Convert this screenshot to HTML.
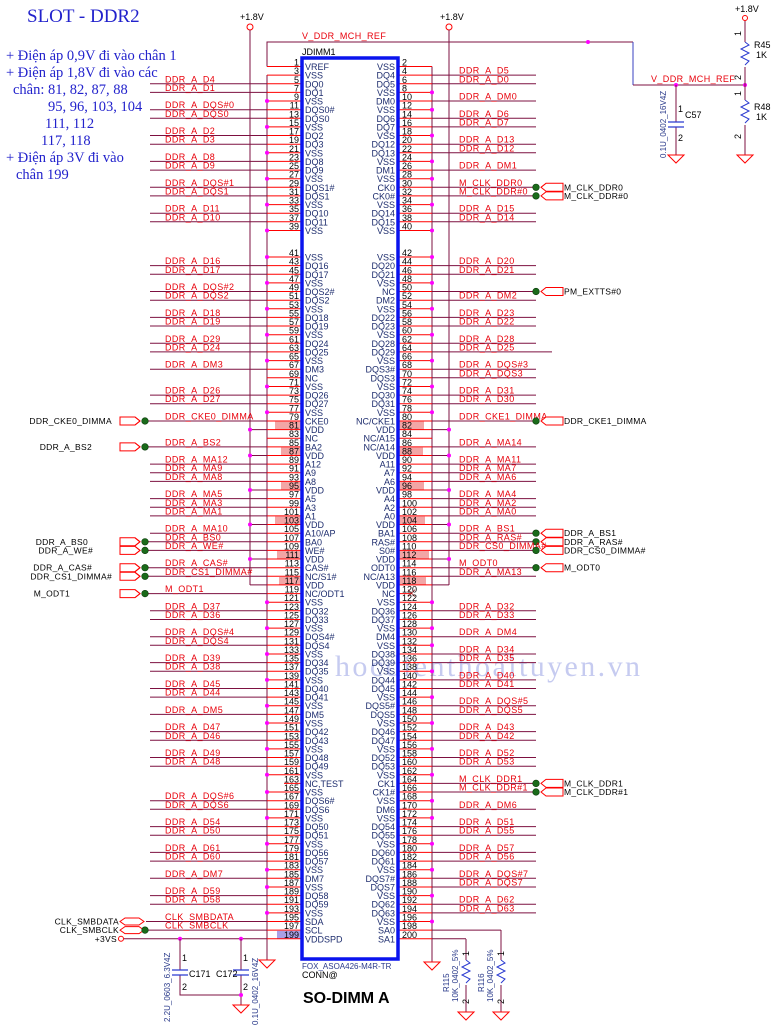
<!DOCTYPE html>
<html><head><meta charset="utf-8"><style>
html,body{margin:0;padding:0;background:#fff;width:776px;height:1027px;overflow:hidden}
svg{display:block}
text{font-family:"Liberation Sans",sans-serif}
.n{font-size:9px;fill:#000;text-anchor:end}
.m{font-size:9px;fill:#000}
.p{font-size:9px;fill:#1e2d6e}
.q{font-size:9px;fill:#1e2d6e;text-anchor:end}
.l{font-size:9px;fill:#e8000b;letter-spacing:.4px}
.k{font-size:8.5px;fill:#000;letter-spacing:.3px}
.ke{font-size:8.5px;fill:#000;letter-spacing:.3px;text-anchor:end}
.s{stroke:#f00;stroke-width:1;fill:none}
.w{stroke:#7d1040;stroke-width:1;fill:none}
.b{stroke:#2a3ad0;stroke-width:1;fill:none}
.d{fill:#f0f}
.g{fill:#1a6b1a;stroke:#0a3a0a;stroke-width:.6}
.pk{fill:#f2a6a6}
.sv,.sv text{font-family:"Liberation Serif",serif;fill:#2222cc}
.v{font-size:8px;fill:#2a3a8a}
</style></head><body>
<svg width="776" height="1027" viewBox="0 0 776 1027" xmlns="http://www.w3.org/2000/svg" overflow="hidden">
<defs>
<g id="gnd"><path d="M-8 0H8L0 8Z" fill="none" stroke="#f00" stroke-width="1"/></g>
<g id="lc"><path d="M-25 -4H-10L-5 0L-10 4H-25Z" fill="#fff" stroke="#f00"/><path d="M-10 -4L-5 0L-10 4" fill="none" stroke="#f00"/><circle cx="0" cy="0" r="3.3" class="g"/></g>
<g id="rc"><circle cx="0" cy="0" r="3.3" class="g"/><path d="M10 -4H27V4H10L5 0Z" fill="#fff" stroke="#f00"/></g>
</defs>

<!-- title & notes -->
<text x="27" y="22" class="sv" font-size="19">SLOT - DDR2</text>
<g class="sv" font-size="14.5">
<text x="6" y="60">+ Điện áp 0,9V đi vào chân 1</text>
<text x="6" y="77">+ Điện áp 1,8V đi vào các</text>
<text x="13" y="94">chân: 81, 82, 87, 88</text>
<text x="48" y="111">95, 96, 103, 104</text>
<text x="45" y="128">111, 112</text>
<text x="41" y="145">117, 118</text>
<text x="6" y="162">+ Điện áp 3V đi vào</text>
<text x="16" y="179">chân 199</text>
</g>

<!-- watermark -->
<text x="335" y="676" style="font-family:'Liberation Serif',serif" font-size="30" fill="#c6cbf0" textLength="305">hocdienthoaituyen.vn</text>

<!-- power rails -->
<text x="240" y="20" class="m" font-size="8">+1.8V</text>
<circle cx="250" cy="27" r="3" fill="none" stroke="#f00"/>
<path class="w" d="M250 30V585"/>
<text x="440" y="20" class="m" font-size="8">+1.8V</text>
<circle cx="449" cy="27" r="3" fill="none" stroke="#f00"/>
<path class="w" d="M449 30V585"/>
<path class="w" d="M267 75V960M432 66.5V962"/>
<use href="#gnd" x="267" y="960"/>
<use href="#gnd" x="432" y="962"/>

<!-- VREF route -->
<path class="w" d="M267 66.5V42H633"/>
<path d="M633 42V85" stroke="#3a40c0" fill="none"/>
<path class="w" d="M633 85H745"/>
<circle cx="588" cy="42" r="2" class="d"/>
<text x="302" y="39" class="l">V_DDR_MCH_REF</text>
<text x="651" y="82" class="l">V_DDR_MCH_REF</text>
<circle cx="676" cy="85" r="2" class="d"/>
<circle cx="745" cy="85" r="2" class="d"/>
<path class="w" d="M676 85V122M676 127V155"/>
<path d="M668 122H684M668 127H684" stroke="#2a3ad0" stroke-width="1.3"/>
<use href="#gnd" x="676" y="155"/>
<text x="685" y="118" class="m" font-size="8">C57</text>
<text x="678" y="112" class="m" font-size="8">1</text>
<text x="678" y="141" class="m" font-size="8">2</text>
<text transform="translate(666,158) rotate(-90)" class="v">0.1U_0402_16V4Z</text>
<text x="735" y="12" class="m" font-size="8">+1.8V</text>
<circle cx="745" cy="18" r="2.5" fill="none" stroke="#f00"/>
<path class="w" d="M745 21V42M745 67V100M745 125V155"/>
<path class="b" d="M745 42l4 3l-8 4l8 4l-8 4l8 4l-4 4"/>
<path class="b" d="M745 100l4 3l-8 4l8 4l-8 4l8 4l-4 4"/>
<use href="#gnd" x="745" y="155"/>
<text x="754" y="48" class="m" font-size="8">R45</text><text x="756" y="58" class="m" font-size="8">1K</text>
<text x="754" y="110" class="m" font-size="8">R48</text><text x="756" y="120" class="m" font-size="8">1K</text>
<text transform="translate(741,36) rotate(-90)" class="m" font-size="8">1</text>
<text transform="translate(741,80) rotate(-90)" class="m" font-size="8">2</text>
<text transform="translate(741,96) rotate(-90)" class="m" font-size="8">1</text>
<text transform="translate(741,139) rotate(-90)" class="m" font-size="8">2</text>

<text x="302" y="55" class="m" font-size="8.5">JDIMM1</text>

<!-- rows -->
<g transform="translate(0,66.5)"><path class="s" d="M267 0H302M398 0H432"/><text x="299" y="-1" class="n">1</text><text x="305" y="3.5" class="p">VREF</text><text x="395" y="3.5" class="q">VSS</text><text x="402" y="-1" class="m">2</text></g>
<g transform="translate(0,75.1)"><path class="s" d="M267 0H302M398 0H432"/><path class="w" d="M432 0H536"/><text x="459" y="-1.5" class="l">DDR_A_D5</text><text x="299" y="-1" class="n">3</text><text x="305" y="3.5" class="p">VSS</text><text x="395" y="3.5" class="q">DQ4</text><text x="402" y="-1" class="m">4</text></g>
<g transform="translate(0,83.8)"><path class="s" d="M267 0H302M398 0H432"/><path class="w" d="M150 0H267M432 0H536"/><text x="165" y="-1.5" class="l">DDR_A_D4</text><text x="459" y="-1.5" class="l">DDR_A_D0</text><text x="299" y="-1" class="n">5</text><text x="305" y="3.5" class="p">DQ0</text><text x="395" y="3.5" class="q">DQ5</text><text x="402" y="-1" class="m">6</text></g>
<g transform="translate(0,92.4)"><path class="s" d="M267 0H302M398 0H432"/><path class="w" d="M150 0H267"/><circle cx="432" r="2" class="d"/><text x="165" y="-1.5" class="l">DDR_A_D1</text><text x="299" y="-1" class="n">7</text><text x="305" y="3.5" class="p">DQ1</text><text x="395" y="3.5" class="q">VSS</text><text x="402" y="-1" class="m">8</text></g>
<g transform="translate(0,101)"><path class="s" d="M267 0H302M398 0H432"/><path class="w" d="M432 0H536"/><circle cx="267" r="2" class="d"/><text x="459" y="-1.5" class="l">DDR_A_DM0</text><text x="299" y="-1" class="n">9</text><text x="305" y="3.5" class="p">VSS</text><text x="395" y="3.5" class="q">DM0</text><text x="402" y="-1" class="m">10</text></g>
<g transform="translate(0,109.7)"><path class="s" d="M267 0H302M398 0H432"/><path class="w" d="M150 0H267"/><circle cx="432" r="2" class="d"/><text x="165" y="-1.5" class="l">DDR_A_DQS#0</text><text x="299" y="-1" class="n">11</text><text x="305" y="3.5" class="p">DQS0#</text><text x="395" y="3.5" class="q">VSS</text><text x="402" y="-1" class="m">12</text></g>
<g transform="translate(0,118.3)"><path class="s" d="M267 0H302M398 0H432"/><path class="w" d="M150 0H267M432 0H536"/><text x="165" y="-1.5" class="l">DDR_A_DQS0</text><text x="459" y="-1.5" class="l">DDR_A_D6</text><text x="299" y="-1" class="n">13</text><text x="305" y="3.5" class="p">DQS0</text><text x="395" y="3.5" class="q">DQ6</text><text x="402" y="-1" class="m">14</text></g>
<g transform="translate(0,126.9)"><path class="s" d="M267 0H302M398 0H432"/><path class="w" d="M432 0H536"/><circle cx="267" r="2" class="d"/><text x="459" y="-1.5" class="l">DDR_A_D7</text><text x="299" y="-1" class="n">15</text><text x="305" y="3.5" class="p">VSS</text><text x="395" y="3.5" class="q">DQ7</text><text x="402" y="-1" class="m">16</text></g>
<g transform="translate(0,135.5)"><path class="s" d="M267 0H302M398 0H432"/><path class="w" d="M150 0H267"/><circle cx="432" r="2" class="d"/><text x="165" y="-1.5" class="l">DDR_A_D2</text><text x="299" y="-1" class="n">17</text><text x="305" y="3.5" class="p">DQ2</text><text x="395" y="3.5" class="q">VSS</text><text x="402" y="-1" class="m">18</text></g>
<g transform="translate(0,144.2)"><path class="s" d="M267 0H302M398 0H432"/><path class="w" d="M150 0H267M432 0H536"/><text x="165" y="-1.5" class="l">DDR_A_D3</text><text x="459" y="-1.5" class="l">DDR_A_D13</text><text x="299" y="-1" class="n">19</text><text x="305" y="3.5" class="p">DQ3</text><text x="395" y="3.5" class="q">DQ12</text><text x="402" y="-1" class="m">20</text></g>
<g transform="translate(0,152.8)"><path class="s" d="M267 0H302M398 0H432"/><path class="w" d="M432 0H536"/><circle cx="267" r="2" class="d"/><text x="459" y="-1.5" class="l">DDR_A_D12</text><text x="299" y="-1" class="n">21</text><text x="305" y="3.5" class="p">VSS</text><text x="395" y="3.5" class="q">DQ13</text><text x="402" y="-1" class="m">22</text></g>
<g transform="translate(0,161.4)"><path class="s" d="M267 0H302M398 0H432"/><path class="w" d="M150 0H267"/><circle cx="432" r="2" class="d"/><text x="165" y="-1.5" class="l">DDR_A_D8</text><text x="299" y="-1" class="n">23</text><text x="305" y="3.5" class="p">DQ8</text><text x="395" y="3.5" class="q">VSS</text><text x="402" y="-1" class="m">24</text></g>
<g transform="translate(0,170.1)"><path class="s" d="M267 0H302M398 0H432"/><path class="w" d="M150 0H267M432 0H536"/><text x="165" y="-1.5" class="l">DDR_A_D9</text><text x="459" y="-1.5" class="l">DDR_A_DM1</text><text x="299" y="-1" class="n">25</text><text x="305" y="3.5" class="p">DQ9</text><text x="395" y="3.5" class="q">DM1</text><text x="402" y="-1" class="m">26</text></g>
<g transform="translate(0,178.7)"><path class="s" d="M267 0H302M398 0H432"/><circle cx="267" r="2" class="d"/><circle cx="432" r="2" class="d"/><text x="299" y="-1" class="n">27</text><text x="305" y="3.5" class="p">VSS</text><text x="395" y="3.5" class="q">VSS</text><text x="402" y="-1" class="m">28</text></g>
<g transform="translate(0,187.3)"><path class="s" d="M267 0H302M398 0H432"/><path class="w" d="M150 0H267M432 0H536"/><text x="165" y="-1.5" class="l">DDR_A_DQS#1</text><text x="459" y="-1.5" class="l">M_CLK_DDR0</text><use href="#rc" x="536"/><text x="564" y="3" class="k">M_CLK_DDR0</text><text x="299" y="-1" class="n">29</text><text x="305" y="3.5" class="p">DQS1#</text><text x="395" y="3.5" class="q">CK0</text><text x="402" y="-1" class="m">30</text></g>
<g transform="translate(0,195.9)"><path class="s" d="M267 0H302M398 0H432"/><path class="w" d="M150 0H267M432 0H536"/><text x="165" y="-1.5" class="l">DDR_A_DQS1</text><text x="459" y="-1.5" class="l">M_CLK_DDR#0</text><use href="#rc" x="536"/><text x="564" y="3" class="k">M_CLK_DDR#0</text><text x="299" y="-1" class="n">31</text><text x="305" y="3.5" class="p">DQS1</text><text x="395" y="3.5" class="q">CK0#</text><text x="402" y="-1" class="m">32</text></g>
<g transform="translate(0,204.6)"><path class="s" d="M267 0H302M398 0H432"/><circle cx="267" r="2" class="d"/><circle cx="432" r="2" class="d"/><text x="299" y="-1" class="n">33</text><text x="305" y="3.5" class="p">VSS</text><text x="395" y="3.5" class="q">VSS</text><text x="402" y="-1" class="m">34</text></g>
<g transform="translate(0,213.2)"><path class="s" d="M267 0H302M398 0H432"/><path class="w" d="M150 0H267M432 0H536"/><text x="165" y="-1.5" class="l">DDR_A_D11</text><text x="459" y="-1.5" class="l">DDR_A_D15</text><text x="299" y="-1" class="n">35</text><text x="305" y="3.5" class="p">DQ10</text><text x="395" y="3.5" class="q">DQ14</text><text x="402" y="-1" class="m">36</text></g>
<g transform="translate(0,221.8)"><path class="s" d="M267 0H302M398 0H432"/><path class="w" d="M150 0H267M432 0H536"/><text x="165" y="-1.5" class="l">DDR_A_D10</text><text x="459" y="-1.5" class="l">DDR_A_D14</text><text x="299" y="-1" class="n">37</text><text x="305" y="3.5" class="p">DQ11</text><text x="395" y="3.5" class="q">DQ15</text><text x="402" y="-1" class="m">38</text></g>
<g transform="translate(0,230.5)"><path class="s" d="M267 0H302M398 0H432"/><circle cx="267" r="2" class="d"/><circle cx="432" r="2" class="d"/><text x="299" y="-1" class="n">39</text><text x="305" y="3.5" class="p">VSS</text><text x="395" y="3.5" class="q">VSS</text><text x="402" y="-1" class="m">40</text></g>

<g transform="translate(0,257)"><path class="s" d="M267 0H302M398 0H432"/><circle cx="267" r="2" class="d"/><circle cx="432" r="2" class="d"/><text x="299" y="-1" class="n">41</text><text x="305" y="3.5" class="p">VSS</text><text x="395" y="3.5" class="q">VSS</text><text x="402" y="-1" class="m">42</text></g>
<g transform="translate(0,265.6)"><path class="s" d="M267 0H302M398 0H432"/><path class="w" d="M150 0H267M432 0H536"/><text x="165" y="-1.5" class="l">DDR_A_D16</text><text x="459" y="-1.5" class="l">DDR_A_D20</text><text x="299" y="-1" class="n">43</text><text x="305" y="3.5" class="p">DQ16</text><text x="395" y="3.5" class="q">DQ20</text><text x="402" y="-1" class="m">44</text></g>
<g transform="translate(0,274.3)"><path class="s" d="M267 0H302M398 0H432"/><path class="w" d="M150 0H267M432 0H536"/><text x="165" y="-1.5" class="l">DDR_A_D17</text><text x="459" y="-1.5" class="l">DDR_A_D21</text><text x="299" y="-1" class="n">45</text><text x="305" y="3.5" class="p">DQ17</text><text x="395" y="3.5" class="q">DQ21</text><text x="402" y="-1" class="m">46</text></g>
<g transform="translate(0,282.9)"><path class="s" d="M267 0H302M398 0H432"/><circle cx="267" r="2" class="d"/><circle cx="432" r="2" class="d"/><text x="299" y="-1" class="n">47</text><text x="305" y="3.5" class="p">VSS</text><text x="395" y="3.5" class="q">VSS</text><text x="402" y="-1" class="m">48</text></g>
<g transform="translate(0,291.5)"><path class="s" d="M267 0H302M398 0H432"/><path class="w" d="M150 0H267M432 0H536"/><text x="165" y="-1.5" class="l">DDR_A_DQS#2</text><use href="#rc" x="536"/><text x="564" y="3" class="k">PM_EXTTS#0</text><text x="299" y="-1" class="n">49</text><text x="305" y="3.5" class="p">DQS2#</text><text x="395" y="3.5" class="q">NC</text><text x="402" y="-1" class="m">50</text></g>
<g transform="translate(0,300.2)"><path class="s" d="M267 0H302M398 0H432"/><path class="w" d="M150 0H267M432 0H536"/><text x="165" y="-1.5" class="l">DDR_A_DQS2</text><text x="459" y="-1.5" class="l">DDR_A_DM2</text><text x="299" y="-1" class="n">51</text><text x="305" y="3.5" class="p">DQS2</text><text x="395" y="3.5" class="q">DM2</text><text x="402" y="-1" class="m">52</text></g>
<g transform="translate(0,308.8)"><path class="s" d="M267 0H302M398 0H432"/><circle cx="267" r="2" class="d"/><circle cx="432" r="2" class="d"/><text x="299" y="-1" class="n">53</text><text x="305" y="3.5" class="p">VSS</text><text x="395" y="3.5" class="q">VSS</text><text x="402" y="-1" class="m">54</text></g>
<g transform="translate(0,317.4)"><path class="s" d="M267 0H302M398 0H432"/><path class="w" d="M150 0H267M432 0H536"/><text x="165" y="-1.5" class="l">DDR_A_D18</text><text x="459" y="-1.5" class="l">DDR_A_D23</text><text x="299" y="-1" class="n">55</text><text x="305" y="3.5" class="p">DQ18</text><text x="395" y="3.5" class="q">DQ22</text><text x="402" y="-1" class="m">56</text></g>
<g transform="translate(0,326)"><path class="s" d="M267 0H302M398 0H432"/><path class="w" d="M150 0H267M432 0H536"/><text x="165" y="-1.5" class="l">DDR_A_D19</text><text x="459" y="-1.5" class="l">DDR_A_D22</text><text x="299" y="-1" class="n">57</text><text x="305" y="3.5" class="p">DQ19</text><text x="395" y="3.5" class="q">DQ23</text><text x="402" y="-1" class="m">58</text></g>
<g transform="translate(0,334.7)"><path class="s" d="M267 0H302M398 0H432"/><circle cx="267" r="2" class="d"/><circle cx="432" r="2" class="d"/><text x="299" y="-1" class="n">59</text><text x="305" y="3.5" class="p">VSS</text><text x="395" y="3.5" class="q">VSS</text><text x="402" y="-1" class="m">60</text></g>
<g transform="translate(0,343.3)"><path class="s" d="M267 0H302M398 0H432"/><path class="w" d="M150 0H267M432 0H536"/><text x="165" y="-1.5" class="l">DDR_A_D29</text><text x="459" y="-1.5" class="l">DDR_A_D28</text><text x="299" y="-1" class="n">61</text><text x="305" y="3.5" class="p">DQ24</text><text x="395" y="3.5" class="q">DQ28</text><text x="402" y="-1" class="m">62</text></g>
<g transform="translate(0,351.9)"><path class="s" d="M267 0H302M398 0H432"/><path class="w" d="M150 0H267M432 0H552"/><text x="165" y="-1.5" class="l">DDR_A_D24</text><text x="459" y="-1.5" class="l">DDR_A_D25</text><text x="299" y="-1" class="n">63</text><text x="305" y="3.5" class="p">DQ25</text><text x="395" y="3.5" class="q">DQ29</text><text x="402" y="-1" class="m">64</text></g>
<g transform="translate(0,360.6)"><path class="s" d="M267 0H302M398 0H432"/><circle cx="267" r="2" class="d"/><circle cx="432" r="2" class="d"/><text x="299" y="-1" class="n">65</text><text x="305" y="3.5" class="p">VSS</text><text x="395" y="3.5" class="q">VSS</text><text x="402" y="-1" class="m">66</text></g>
<g transform="translate(0,369.2)"><path class="s" d="M267 0H302M398 0H432"/><path class="w" d="M150 0H267M432 0H536"/><text x="165" y="-1.5" class="l">DDR_A_DM3</text><text x="459" y="-1.5" class="l">DDR_A_DQS#3</text><text x="299" y="-1" class="n">67</text><text x="305" y="3.5" class="p">DM3</text><text x="395" y="3.5" class="q">DQS3#</text><text x="402" y="-1" class="m">68</text></g>
<g transform="translate(0,377.8)"><path class="s" d="M267 0H302M398 0H432"/><path class="w" d="M432 0H536"/><text x="459" y="-1.5" class="l">DDR_A_DQS3</text><text x="299" y="-1" class="n">69</text><text x="305" y="3.5" class="p">NC</text><text x="395" y="3.5" class="q">DQS3</text><text x="402" y="-1" class="m">70</text></g>
<g transform="translate(0,386.5)"><path class="s" d="M267 0H302M398 0H432"/><circle cx="267" r="2" class="d"/><circle cx="432" r="2" class="d"/><text x="299" y="-1" class="n">71</text><text x="305" y="3.5" class="p">VSS</text><text x="395" y="3.5" class="q">VSS</text><text x="402" y="-1" class="m">72</text></g>
<g transform="translate(0,395.1)"><path class="s" d="M267 0H302M398 0H432"/><path class="w" d="M150 0H267M432 0H536"/><text x="165" y="-1.5" class="l">DDR_A_D26</text><text x="459" y="-1.5" class="l">DDR_A_D31</text><text x="299" y="-1" class="n">73</text><text x="305" y="3.5" class="p">DQ26</text><text x="395" y="3.5" class="q">DQ30</text><text x="402" y="-1" class="m">74</text></g>
<g transform="translate(0,403.7)"><path class="s" d="M267 0H302M398 0H432"/><path class="w" d="M150 0H267M432 0H536"/><text x="165" y="-1.5" class="l">DDR_A_D27</text><text x="459" y="-1.5" class="l">DDR_A_D30</text><text x="299" y="-1" class="n">75</text><text x="305" y="3.5" class="p">DQ27</text><text x="395" y="3.5" class="q">DQ31</text><text x="402" y="-1" class="m">76</text></g>
<g transform="translate(0,412.3)"><path class="s" d="M267 0H302M398 0H432"/><circle cx="267" r="2" class="d"/><circle cx="432" r="2" class="d"/><text x="299" y="-1" class="n">77</text><text x="305" y="3.5" class="p">VSS</text><text x="395" y="3.5" class="q">VSS</text><text x="402" y="-1" class="m">78</text></g>
<g transform="translate(0,421)"><path class="s" d="M267 0H302M398 0H432"/><path class="w" d="M146 0H267M432 0H536"/><text x="165" y="-1.5" class="l">DDR_CKE0_DIMMA</text><text x="459" y="-1.5" class="l">DDR_CKE1_DIMMA</text><use href="#lc" x="145"/><text x="112" y="3" class="ke">DDR_CKE0_DIMMA</text><use href="#rc" x="536"/><text x="564" y="3" class="k">DDR_CKE1_DIMMA</text><text x="299" y="-1" class="n">79</text><text x="305" y="3.5" class="p">CKE0</text><text x="395" y="3.5" class="q">NC/CKE1</text><text x="402" y="-1" class="m">80</text></g>
<g transform="translate(0,429.6)"><rect x="275" y="-8" width="26" height="8" class="pk"/><rect x="399" y="-8" width="25" height="8" class="pk"/><path class="s" d="M267 0H302M398 0H432"/><path class="w" d="M250 0H267M432 0H449"/><circle cx="250" r="2" class="d"/><circle cx="449" r="2" class="d"/><text x="299" y="-1" class="n">81</text><text x="305" y="3.5" class="p">VDD</text><text x="395" y="3.5" class="q">VDD</text><text x="402" y="-1" class="m">82</text></g>
<g transform="translate(0,438.2)"><path class="s" d="M267 0H302M398 0H432"/><text x="299" y="-1" class="n">83</text><text x="305" y="3.5" class="p">NC</text><text x="395" y="3.5" class="q">NC/A15</text><text x="402" y="-1" class="m">84</text></g>
<g transform="translate(0,446.9)"><path class="s" d="M267 0H302M398 0H432"/><path class="w" d="M146 0H267M432 0H536"/><text x="165" y="-1.5" class="l">DDR_A_BS2</text><text x="459" y="-1.5" class="l">DDR_A_MA14</text><use href="#lc" x="145"/><text x="92" y="3" class="ke">DDR_A_BS2</text><text x="299" y="-1" class="n">85</text><text x="305" y="3.5" class="p">BA2</text><text x="395" y="3.5" class="q">NC/A14</text><text x="402" y="-1" class="m">86</text></g>
<g transform="translate(0,455.5)"><rect x="281" y="-8" width="20" height="8" class="pk"/><rect x="399" y="-8" width="24" height="8" class="pk"/><path class="s" d="M267 0H302M398 0H432"/><path class="w" d="M250 0H267M432 0H449"/><circle cx="250" r="2" class="d"/><circle cx="449" r="2" class="d"/><text x="299" y="-1" class="n">87</text><text x="305" y="3.5" class="p">VDD</text><text x="395" y="3.5" class="q">VDD</text><text x="402" y="-1" class="m">88</text></g>
<g transform="translate(0,464.1)"><path class="s" d="M267 0H302M398 0H432"/><path class="w" d="M150 0H267M432 0H536"/><text x="165" y="-1.5" class="l">DDR_A_MA12</text><text x="459" y="-1.5" class="l">DDR_A_MA11</text><text x="299" y="-1" class="n">89</text><text x="305" y="3.5" class="p">A12</text><text x="395" y="3.5" class="q">A11</text><text x="402" y="-1" class="m">90</text></g>
<g transform="translate(0,472.7)"><path class="s" d="M267 0H302M398 0H432"/><path class="w" d="M150 0H267M432 0H536"/><text x="165" y="-1.5" class="l">DDR_A_MA9</text><text x="459" y="-1.5" class="l">DDR_A_MA7</text><text x="299" y="-1" class="n">91</text><text x="305" y="3.5" class="p">A9</text><text x="395" y="3.5" class="q">A7</text><text x="402" y="-1" class="m">92</text></g>
<g transform="translate(0,481.4)"><path class="s" d="M267 0H302M398 0H432"/><path class="w" d="M150 0H267M432 0H536"/><text x="165" y="-1.5" class="l">DDR_A_MA8</text><text x="459" y="-1.5" class="l">DDR_A_MA6</text><text x="299" y="-1" class="n">93</text><text x="305" y="3.5" class="p">A8</text><text x="395" y="3.5" class="q">A6</text><text x="402" y="-1" class="m">94</text></g>
<g transform="translate(0,490)"><rect x="281" y="-8" width="20" height="8" class="pk"/><rect x="399" y="-8" width="25" height="8" class="pk"/><path class="s" d="M267 0H302M398 0H432"/><path class="w" d="M250 0H267M432 0H449"/><circle cx="250" r="2" class="d"/><circle cx="449" r="2" class="d"/><text x="299" y="-1" class="n">95</text><text x="305" y="3.5" class="p">VDD</text><text x="395" y="3.5" class="q">VDD</text><text x="402" y="-1" class="m">96</text></g>
<g transform="translate(0,498.6)"><path class="s" d="M267 0H302M398 0H432"/><path class="w" d="M150 0H267M432 0H536"/><text x="165" y="-1.5" class="l">DDR_A_MA5</text><text x="459" y="-1.5" class="l">DDR_A_MA4</text><text x="299" y="-1" class="n">97</text><text x="305" y="3.5" class="p">A5</text><text x="395" y="3.5" class="q">A4</text><text x="402" y="-1" class="m">98</text></g>
<g transform="translate(0,507.3)"><path class="s" d="M267 0H302M398 0H432"/><path class="w" d="M150 0H267M432 0H536"/><text x="165" y="-1.5" class="l">DDR_A_MA3</text><text x="459" y="-1.5" class="l">DDR_A_MA2</text><text x="299" y="-1" class="n">99</text><text x="305" y="3.5" class="p">A3</text><text x="395" y="3.5" class="q">A2</text><text x="402" y="-1" class="m">100</text></g>
<g transform="translate(0,515.9)"><path class="s" d="M267 0H302M398 0H432"/><path class="w" d="M150 0H267M432 0H536"/><text x="165" y="-1.5" class="l">DDR_A_MA1</text><text x="459" y="-1.5" class="l">DDR_A_MA0</text><text x="299" y="-1" class="n">101</text><text x="305" y="3.5" class="p">A1</text><text x="395" y="3.5" class="q">A0</text><text x="402" y="-1" class="m">102</text></g>
<g transform="translate(0,524.5)"><rect x="275" y="-8" width="26" height="8" class="pk"/><rect x="399" y="-8" width="26" height="8" class="pk"/><path class="s" d="M267 0H302M398 0H432"/><path class="w" d="M250 0H267M432 0H449"/><circle cx="250" r="2" class="d"/><circle cx="449" r="2" class="d"/><text x="299" y="-1" class="n">103</text><text x="305" y="3.5" class="p">VDD</text><text x="395" y="3.5" class="q">VDD</text><text x="402" y="-1" class="m">104</text></g>
<g transform="translate(0,533.2)"><path class="s" d="M267 0H302M398 0H432"/><path class="w" d="M150 0H267M432 0H536"/><text x="165" y="-1.5" class="l">DDR_A_MA10</text><text x="459" y="-1.5" class="l">DDR_A_BS1</text><use href="#rc" x="536"/><text x="564" y="3" class="k">DDR_A_BS1</text><text x="299" y="-1" class="n">105</text><text x="305" y="3.5" class="p">A10/AP</text><text x="395" y="3.5" class="q">BA1</text><text x="402" y="-1" class="m">106</text></g>
<g transform="translate(0,541.8)"><path class="s" d="M267 0H302M398 0H432"/><path class="w" d="M146 0H267M432 0H536"/><text x="165" y="-1.5" class="l">DDR_A_BS0</text><text x="459" y="-1.5" class="l">DDR_A_RAS#</text><use href="#lc" x="145"/><text x="88" y="3" class="ke">DDR_A_BS0</text><use href="#rc" x="536"/><text x="564" y="3" class="k">DDR_A_RAS#</text><text x="299" y="-1" class="n">107</text><text x="305" y="3.5" class="p">BA0</text><text x="395" y="3.5" class="q">RAS#</text><text x="402" y="-1" class="m">108</text></g>
<g transform="translate(0,550.4)"><path class="s" d="M267 0H302M398 0H432"/><path class="w" d="M146 0H267M432 0H536"/><text x="165" y="-1.5" class="l">DDR_A_WE#</text><text x="459" y="-1.5" class="l">DDR_CS0_DIMMA#</text><use href="#lc" x="145"/><text x="93" y="3" class="ke">DDR_A_WE#</text><use href="#rc" x="536"/><text x="564" y="3" class="k">DDR_CS0_DIMMA#</text><text x="299" y="-1" class="n">109</text><text x="305" y="3.5" class="p">WE#</text><text x="395" y="3.5" class="q">S0#</text><text x="402" y="-1" class="m">110</text></g>
<g transform="translate(0,559)"><rect x="277" y="-8" width="24" height="8" class="pk"/><rect x="399" y="-8" width="30" height="8" class="pk"/><path class="s" d="M267 0H302M398 0H432"/><path class="w" d="M250 0H267M432 0H449"/><circle cx="250" r="2" class="d"/><circle cx="449" r="2" class="d"/><text x="299" y="-1" class="n">111</text><text x="305" y="3.5" class="p">VDD</text><text x="395" y="3.5" class="q">VDD</text><text x="402" y="-1" class="m">112</text></g>
<g transform="translate(0,567.7)"><path class="s" d="M267 0H302M398 0H432"/><path class="w" d="M146 0H267M432 0H536"/><text x="165" y="-1.5" class="l">DDR_A_CAS#</text><text x="459" y="-1.5" class="l">M_ODT0</text><use href="#lc" x="145"/><text x="92" y="3" class="ke">DDR_A_CAS#</text><use href="#rc" x="536"/><text x="564" y="3" class="k">M_ODT0</text><text x="299" y="-1" class="n">113</text><text x="305" y="3.5" class="p">CAS#</text><text x="395" y="3.5" class="q">ODT0</text><text x="402" y="-1" class="m">114</text></g>
<g transform="translate(0,576.3)"><path class="s" d="M267 0H302M398 0H432"/><path class="w" d="M146 0H267M432 0H536"/><text x="165" y="-1.5" class="l">DDR_CS1_DIMMA#</text><text x="459" y="-1.5" class="l">DDR_A_MA13</text><use href="#lc" x="145"/><text x="112" y="3" class="ke">DDR_CS1_DIMMA#</text><text x="299" y="-1" class="n">115</text><text x="305" y="3.5" class="p">NC/S1#</text><text x="395" y="3.5" class="q">NC/A13</text><text x="402" y="-1" class="m">116</text></g>
<g transform="translate(0,584.9)"><rect x="279" y="-8" width="22" height="8" class="pk"/><rect x="399" y="-8" width="27" height="8" class="pk"/><path class="s" d="M267 0H302M398 0H432"/><path class="w" d="M250 0H267M432 0H449"/><text x="299" y="-1" class="n">117</text><text x="305" y="3.5" class="p">VDD</text><text x="395" y="3.5" class="q">VDD</text><text x="402" y="-1" class="m">118</text></g>
<g transform="translate(0,593.6)"><path class="s" d="M267 0H302M398 0H412"/><path class="w" d="M146 0H267"/><path d="M408 -4l7 7M415 -4l-7 7" stroke="#a02020" stroke-width=".8"/><text x="165" y="-1.5" class="l">M_ODT1</text><use href="#lc" x="145"/><text x="70" y="3" class="ke">M_ODT1</text><text x="299" y="-1" class="n">119</text><text x="305" y="3.5" class="p">NC/ODT1</text><text x="395" y="3.5" class="q">NC</text><text x="402" y="-1" class="m">120</text></g>
<g transform="translate(0,602.2)"><path class="s" d="M267 0H302M398 0H432"/><circle cx="267" r="2" class="d"/><circle cx="432" r="2" class="d"/><text x="299" y="-1" class="n">121</text><text x="305" y="3.5" class="p">VSS</text><text x="395" y="3.5" class="q">VSS</text><text x="402" y="-1" class="m">122</text></g>
<g transform="translate(0,610.8)"><path class="s" d="M267 0H302M398 0H432"/><path class="w" d="M150 0H267M432 0H536"/><text x="165" y="-1.5" class="l">DDR_A_D37</text><text x="459" y="-1.5" class="l">DDR_A_D32</text><text x="299" y="-1" class="n">123</text><text x="305" y="3.5" class="p">DQ32</text><text x="395" y="3.5" class="q">DQ36</text><text x="402" y="-1" class="m">124</text></g>
<g transform="translate(0,619.5)"><path class="s" d="M267 0H302M398 0H432"/><path class="w" d="M150 0H267M432 0H536"/><text x="165" y="-1.5" class="l">DDR_A_D36</text><text x="459" y="-1.5" class="l">DDR_A_D33</text><text x="299" y="-1" class="n">125</text><text x="305" y="3.5" class="p">DQ33</text><text x="395" y="3.5" class="q">DQ37</text><text x="402" y="-1" class="m">126</text></g>
<g transform="translate(0,628.1)"><path class="s" d="M267 0H302M398 0H432"/><circle cx="267" r="2" class="d"/><circle cx="432" r="2" class="d"/><text x="299" y="-1" class="n">127</text><text x="305" y="3.5" class="p">VSS</text><text x="395" y="3.5" class="q">VSS</text><text x="402" y="-1" class="m">128</text></g>
<g transform="translate(0,636.7)"><path class="s" d="M267 0H302M398 0H432"/><path class="w" d="M150 0H267M432 0H536"/><text x="165" y="-1.5" class="l">DDR_A_DQS#4</text><text x="459" y="-1.5" class="l">DDR_A_DM4</text><text x="299" y="-1" class="n">129</text><text x="305" y="3.5" class="p">DQS4#</text><text x="395" y="3.5" class="q">DM4</text><text x="402" y="-1" class="m">130</text></g>
<g transform="translate(0,645.3)"><path class="s" d="M267 0H302M398 0H432"/><path class="w" d="M150 0H267"/><circle cx="432" r="2" class="d"/><text x="165" y="-1.5" class="l">DDR_A_DQS4</text><text x="299" y="-1" class="n">131</text><text x="305" y="3.5" class="p">DQS4</text><text x="395" y="3.5" class="q">VSS</text><text x="402" y="-1" class="m">132</text></g>
<g transform="translate(0,654)"><path class="s" d="M267 0H302M398 0H432"/><path class="w" d="M432 0H536"/><circle cx="267" r="2" class="d"/><text x="459" y="-1.5" class="l">DDR_A_D34</text><text x="299" y="-1" class="n">133</text><text x="305" y="3.5" class="p">VSS</text><text x="395" y="3.5" class="q">DQ38</text><text x="402" y="-1" class="m">134</text></g>
<g transform="translate(0,662.6)"><path class="s" d="M267 0H302M398 0H432"/><path class="w" d="M150 0H267M432 0H536"/><text x="165" y="-1.5" class="l">DDR_A_D39</text><text x="459" y="-1.5" class="l">DDR_A_D35</text><text x="299" y="-1" class="n">135</text><text x="305" y="3.5" class="p">DQ34</text><text x="395" y="3.5" class="q">DQ39</text><text x="402" y="-1" class="m">136</text></g>
<g transform="translate(0,671.2)"><path class="s" d="M267 0H302M398 0H432"/><path class="w" d="M150 0H267"/><circle cx="432" r="2" class="d"/><text x="165" y="-1.5" class="l">DDR_A_D38</text><text x="299" y="-1" class="n">137</text><text x="305" y="3.5" class="p">DQ35</text><text x="395" y="3.5" class="q">VSS</text><text x="402" y="-1" class="m">138</text></g>
<g transform="translate(0,679.9)"><path class="s" d="M267 0H302M398 0H432"/><path class="w" d="M432 0H536"/><circle cx="267" r="2" class="d"/><text x="459" y="-1.5" class="l">DDR_A_D40</text><text x="299" y="-1" class="n">139</text><text x="305" y="3.5" class="p">VSS</text><text x="395" y="3.5" class="q">DQ44</text><text x="402" y="-1" class="m">140</text></g>
<g transform="translate(0,688.5)"><path class="s" d="M267 0H302M398 0H432"/><path class="w" d="M150 0H267M432 0H536"/><text x="165" y="-1.5" class="l">DDR_A_D45</text><text x="459" y="-1.5" class="l">DDR_A_D41</text><text x="299" y="-1" class="n">141</text><text x="305" y="3.5" class="p">DQ40</text><text x="395" y="3.5" class="q">DQ45</text><text x="402" y="-1" class="m">142</text></g>
<g transform="translate(0,697.1)"><path class="s" d="M267 0H302M398 0H432"/><path class="w" d="M150 0H267"/><circle cx="432" r="2" class="d"/><text x="165" y="-1.5" class="l">DDR_A_D44</text><text x="299" y="-1" class="n">143</text><text x="305" y="3.5" class="p">DQ41</text><text x="395" y="3.5" class="q">VSS</text><text x="402" y="-1" class="m">144</text></g>
<g transform="translate(0,705.7)"><path class="s" d="M267 0H302M398 0H432"/><path class="w" d="M432 0H536"/><circle cx="267" r="2" class="d"/><text x="459" y="-1.5" class="l">DDR_A_DQS#5</text><text x="299" y="-1" class="n">145</text><text x="305" y="3.5" class="p">VSS</text><text x="395" y="3.5" class="q">DQS5#</text><text x="402" y="-1" class="m">146</text></g>
<g transform="translate(0,714.4)"><path class="s" d="M267 0H302M398 0H432"/><path class="w" d="M150 0H267M432 0H536"/><text x="165" y="-1.5" class="l">DDR_A_DM5</text><text x="459" y="-1.5" class="l">DDR_A_DQS5</text><text x="299" y="-1" class="n">147</text><text x="305" y="3.5" class="p">DM5</text><text x="395" y="3.5" class="q">DQS5</text><text x="402" y="-1" class="m">148</text></g>
<g transform="translate(0,723)"><path class="s" d="M267 0H302M398 0H432"/><circle cx="267" r="2" class="d"/><circle cx="432" r="2" class="d"/><text x="299" y="-1" class="n">149</text><text x="305" y="3.5" class="p">VSS</text><text x="395" y="3.5" class="q">VSS</text><text x="402" y="-1" class="m">150</text></g>
<g transform="translate(0,731.6)"><path class="s" d="M267 0H302M398 0H432"/><path class="w" d="M150 0H267M432 0H536"/><text x="165" y="-1.5" class="l">DDR_A_D47</text><text x="459" y="-1.5" class="l">DDR_A_D43</text><text x="299" y="-1" class="n">151</text><text x="305" y="3.5" class="p">DQ42</text><text x="395" y="3.5" class="q">DQ46</text><text x="402" y="-1" class="m">152</text></g>
<g transform="translate(0,740.3)"><path class="s" d="M267 0H302M398 0H432"/><path class="w" d="M150 0H267M432 0H536"/><text x="165" y="-1.5" class="l">DDR_A_D46</text><text x="459" y="-1.5" class="l">DDR_A_D42</text><text x="299" y="-1" class="n">153</text><text x="305" y="3.5" class="p">DQ43</text><text x="395" y="3.5" class="q">DQ47</text><text x="402" y="-1" class="m">154</text></g>
<g transform="translate(0,748.9)"><path class="s" d="M267 0H302M398 0H432"/><circle cx="267" r="2" class="d"/><circle cx="432" r="2" class="d"/><text x="299" y="-1" class="n">155</text><text x="305" y="3.5" class="p">VSS</text><text x="395" y="3.5" class="q">VSS</text><text x="402" y="-1" class="m">156</text></g>
<g transform="translate(0,757.5)"><path class="s" d="M267 0H302M398 0H432"/><path class="w" d="M150 0H267M432 0H536"/><text x="165" y="-1.5" class="l">DDR_A_D49</text><text x="459" y="-1.5" class="l">DDR_A_D52</text><text x="299" y="-1" class="n">157</text><text x="305" y="3.5" class="p">DQ48</text><text x="395" y="3.5" class="q">DQ52</text><text x="402" y="-1" class="m">158</text></g>
<g transform="translate(0,766.2)"><path class="s" d="M267 0H302M398 0H432"/><path class="w" d="M150 0H267M432 0H536"/><text x="165" y="-1.5" class="l">DDR_A_D48</text><text x="459" y="-1.5" class="l">DDR_A_D53</text><text x="299" y="-1" class="n">159</text><text x="305" y="3.5" class="p">DQ49</text><text x="395" y="3.5" class="q">DQ53</text><text x="402" y="-1" class="m">160</text></g>
<g transform="translate(0,774.8)"><path class="s" d="M267 0H302M398 0H432"/><circle cx="267" r="2" class="d"/><circle cx="432" r="2" class="d"/><text x="299" y="-1" class="n">161</text><text x="305" y="3.5" class="p">VSS</text><text x="395" y="3.5" class="q">VSS</text><text x="402" y="-1" class="m">162</text></g>
<g transform="translate(0,783.4)"><path class="s" d="M284 0H302M398 0H432"/><path class="w" d="M432 0H536"/><text x="459" y="-1.5" class="l">M_CLK_DDR1</text><use href="#rc" x="536"/><text x="564" y="3" class="k">M_CLK_DDR1</text><text x="299" y="-1" class="n">163</text><text x="305" y="3.5" class="p">NC,TEST</text><text x="395" y="3.5" class="q">CK1</text><text x="402" y="-1" class="m">164</text></g>
<g transform="translate(0,792)"><path class="s" d="M267 0H302M398 0H432"/><path class="w" d="M432 0H536"/><circle cx="267" r="2" class="d"/><text x="459" y="-1.5" class="l">M_CLK_DDR#1</text><use href="#rc" x="536"/><text x="564" y="3" class="k">M_CLK_DDR#1</text><text x="299" y="-1" class="n">165</text><text x="305" y="3.5" class="p">VSS</text><text x="395" y="3.5" class="q">CK1#</text><text x="402" y="-1" class="m">166</text></g>
<g transform="translate(0,800.7)"><path class="s" d="M267 0H302M398 0H432"/><path class="w" d="M150 0H267"/><circle cx="432" r="2" class="d"/><text x="165" y="-1.5" class="l">DDR_A_DQS#6</text><text x="299" y="-1" class="n">167</text><text x="305" y="3.5" class="p">DQS6#</text><text x="395" y="3.5" class="q">VSS</text><text x="402" y="-1" class="m">168</text></g>
<g transform="translate(0,809.3)"><path class="s" d="M267 0H302M398 0H432"/><path class="w" d="M150 0H267M432 0H536"/><text x="165" y="-1.5" class="l">DDR_A_DQS6</text><text x="459" y="-1.5" class="l">DDR_A_DM6</text><text x="299" y="-1" class="n">169</text><text x="305" y="3.5" class="p">DQS6</text><text x="395" y="3.5" class="q">DM6</text><text x="402" y="-1" class="m">170</text></g>
<g transform="translate(0,817.9)"><path class="s" d="M267 0H302M398 0H432"/><circle cx="267" r="2" class="d"/><circle cx="432" r="2" class="d"/><text x="299" y="-1" class="n">171</text><text x="305" y="3.5" class="p">VSS</text><text x="395" y="3.5" class="q">VSS</text><text x="402" y="-1" class="m">172</text></g>
<g transform="translate(0,826.6)"><path class="s" d="M267 0H302M398 0H432"/><path class="w" d="M150 0H267M432 0H536"/><text x="165" y="-1.5" class="l">DDR_A_D54</text><text x="459" y="-1.5" class="l">DDR_A_D51</text><text x="299" y="-1" class="n">173</text><text x="305" y="3.5" class="p">DQ50</text><text x="395" y="3.5" class="q">DQ54</text><text x="402" y="-1" class="m">174</text></g>
<g transform="translate(0,835.2)"><path class="s" d="M267 0H302M398 0H432"/><path class="w" d="M150 0H267M432 0H536"/><text x="165" y="-1.5" class="l">DDR_A_D50</text><text x="459" y="-1.5" class="l">DDR_A_D55</text><text x="299" y="-1" class="n">175</text><text x="305" y="3.5" class="p">DQ51</text><text x="395" y="3.5" class="q">DQ55</text><text x="402" y="-1" class="m">176</text></g>
<g transform="translate(0,843.8)"><path class="s" d="M267 0H302M398 0H432"/><circle cx="267" r="2" class="d"/><circle cx="432" r="2" class="d"/><text x="299" y="-1" class="n">177</text><text x="305" y="3.5" class="p">VSS</text><text x="395" y="3.5" class="q">VSS</text><text x="402" y="-1" class="m">178</text></g>
<g transform="translate(0,852.4)"><path class="s" d="M267 0H302M398 0H432"/><path class="w" d="M150 0H267M432 0H536"/><text x="165" y="-1.5" class="l">DDR_A_D61</text><text x="459" y="-1.5" class="l">DDR_A_D57</text><text x="299" y="-1" class="n">179</text><text x="305" y="3.5" class="p">DQ56</text><text x="395" y="3.5" class="q">DQ60</text><text x="402" y="-1" class="m">180</text></g>
<g transform="translate(0,861.1)"><path class="s" d="M267 0H302M398 0H432"/><path class="w" d="M150 0H267M432 0H536"/><text x="165" y="-1.5" class="l">DDR_A_D60</text><text x="459" y="-1.5" class="l">DDR_A_D56</text><text x="299" y="-1" class="n">181</text><text x="305" y="3.5" class="p">DQ57</text><text x="395" y="3.5" class="q">DQ61</text><text x="402" y="-1" class="m">182</text></g>
<g transform="translate(0,869.7)"><path class="s" d="M267 0H302M398 0H432"/><circle cx="267" r="2" class="d"/><circle cx="432" r="2" class="d"/><text x="299" y="-1" class="n">183</text><text x="305" y="3.5" class="p">VSS</text><text x="395" y="3.5" class="q">VSS</text><text x="402" y="-1" class="m">184</text></g>
<g transform="translate(0,878.3)"><path class="s" d="M267 0H302M398 0H432"/><path class="w" d="M150 0H267M432 0H536"/><text x="165" y="-1.5" class="l">DDR_A_DM7</text><text x="459" y="-1.5" class="l">DDR_A_DQS#7</text><text x="299" y="-1" class="n">185</text><text x="305" y="3.5" class="p">DM7</text><text x="395" y="3.5" class="q">DQS7#</text><text x="402" y="-1" class="m">186</text></g>
<g transform="translate(0,887)"><path class="s" d="M267 0H302M398 0H432"/><path class="w" d="M432 0H536"/><circle cx="267" r="2" class="d"/><text x="459" y="-1.5" class="l">DDR_A_DQS7</text><text x="299" y="-1" class="n">187</text><text x="305" y="3.5" class="p">VSS</text><text x="395" y="3.5" class="q">DQS7</text><text x="402" y="-1" class="m">188</text></g>
<g transform="translate(0,895.6)"><path class="s" d="M267 0H302M398 0H432"/><path class="w" d="M150 0H267"/><circle cx="432" r="2" class="d"/><text x="165" y="-1.5" class="l">DDR_A_D59</text><text x="299" y="-1" class="n">189</text><text x="305" y="3.5" class="p">DQ58</text><text x="395" y="3.5" class="q">VSS</text><text x="402" y="-1" class="m">190</text></g>
<g transform="translate(0,904.2)"><path class="s" d="M267 0H302M398 0H432"/><path class="w" d="M150 0H267M432 0H536"/><text x="165" y="-1.5" class="l">DDR_A_D58</text><text x="459" y="-1.5" class="l">DDR_A_D62</text><text x="299" y="-1" class="n">191</text><text x="305" y="3.5" class="p">DQ59</text><text x="395" y="3.5" class="q">DQ62</text><text x="402" y="-1" class="m">192</text></g>
<g transform="translate(0,912.9)"><path class="s" d="M267 0H302M398 0H432"/><path class="w" d="M432 0H536"/><circle cx="267" r="2" class="d"/><text x="459" y="-1.5" class="l">DDR_A_D63</text><text x="299" y="-1" class="n">193</text><text x="305" y="3.5" class="p">VSS</text><text x="395" y="3.5" class="q">DQ63</text><text x="402" y="-1" class="m">194</text></g>
<g transform="translate(0,921.5)"><path class="s" d="M267 0H302M398 0H432"/><path class="w" d="M146 0H267"/><circle cx="432" r="2" class="d"/><path d="M120 0l5 -3.5H139l5 3.5l-5 3.5H125Z" fill="none" stroke="#f00"/><text x="165" y="-1.5" class="l">CLK_SMBDATA</text><text x="119" y="3" class="ke">CLK_SMBDATA</text><text x="299" y="-1" class="n">195</text><text x="305" y="3.5" class="p">SDA</text><text x="395" y="3.5" class="q">VSS</text><text x="402" y="-1" class="m">196</text></g>
<g transform="translate(0,930.1)"><path class="s" d="M267 0H302M398 0H432"/><path class="w" d="M146 0H267M432 0H501"/><path d="M120 0l5 -3.5H139l5 3.5l-5 3.5H125Z" fill="none" stroke="#f00"/><circle cx="145" r="3.3" class="g"/><text x="165" y="-1.5" class="l">CLK_SMBCLK</text><text x="119" y="3" class="ke">CLK_SMBCLK</text><text x="299" y="-1" class="n">197</text><text x="305" y="3.5" class="p">SCL</text><text x="395" y="3.5" class="q">SA0</text><text x="402" y="-1" class="m">198</text></g>
<g transform="translate(0,938.8)"><rect x="277" y="-8" width="24" height="8" fill="#a9a0e6"/><path class="s" d="M267 0H302M398 0H432"/><path class="w" d="M124 0H267M432 0H466"/><circle cx="121" r="2.5" fill="#fff" stroke="#f00"/><text x="117" y="3" class="ke">+3VS</text><circle cx="180" r="2" class="d"/><circle cx="241" r="2" class="d"/><text x="299" y="-1" class="n">199</text><text x="305" y="3.5" class="p">VDDSPD</text><text x="395" y="3.5" class="q">SA1</text><text x="402" y="-1" class="m">200</text></g>

<!-- box -->
<rect x="302" y="58" width="96" height="901" fill="none" stroke="#0a14ee" stroke-width="3.5"/>
<text x="302" y="969" class="v" font-size="8" fill="#333">FOX_ASOA426-M4R-TR</text>
<text x="302" y="978" class="m" font-size="8.5" fill="#333">CONN@</text>
<text x="303" y="1003" font-size="16" font-weight="bold" fill="#000">SO-DIMM A</text>

<!-- bottom caps -->
<path class="w" d="M180 939V970M180 975V995H241M241 939V970M241 975V1005"/>
<path d="M172 970H188M172 975H188M233 970H249M233 975H249" stroke="#2a3ad0" stroke-width="1.3"/>
<circle cx="241" cy="995" r="2" class="d"/>
<use href="#gnd" x="241" y="1005"/>
<text x="189" y="977" class="m" font-size="8">C171</text>
<text x="216" y="977" class="m" font-size="8">C172</text>
<text x="182" y="961" class="m" font-size="8">1</text><text x="182" y="990" class="m" font-size="8">2</text>
<text x="243" y="961" class="m" font-size="8">1</text><text x="243" y="990" class="m" font-size="8">2</text>
<text transform="translate(170,1022) rotate(-90)" class="v">2.2U_0603_6.3V4Z</text>
<text transform="translate(258,1025) rotate(-90)" class="v">0.1U_0402_16V4Z</text>

<!-- R115 / R116 -->
<path class="w" d="M466 939V960M466 985V1012M501 930V960M501 985V1012"/>
<path class="b" d="M466 960l4 3l-8 4l8 4l-8 4l8 4l-4 4"/>
<path class="b" d="M501 960l4 3l-8 4l8 4l-8 4l8 4l-4 4"/>
<use href="#gnd" x="466" y="1012"/>
<use href="#gnd" x="501" y="1012"/>
<text transform="translate(449,992) rotate(-90)" class="v">R115</text>
<text transform="translate(458,1002) rotate(-90)" class="v">10K_0402_5%</text>
<text transform="translate(484,992) rotate(-90)" class="v">R116</text>
<text transform="translate(493,1002) rotate(-90)" class="v">10K_0402_5%</text>
<text transform="translate(469,956) rotate(-90)" class="m" font-size="8">1</text>
<text transform="translate(469,1004) rotate(-90)" class="m" font-size="8">2</text>
<text transform="translate(504,956) rotate(-90)" class="m" font-size="8">1</text>
<text transform="translate(504,1004) rotate(-90)" class="m" font-size="8">2</text>
</svg>
</body></html>
